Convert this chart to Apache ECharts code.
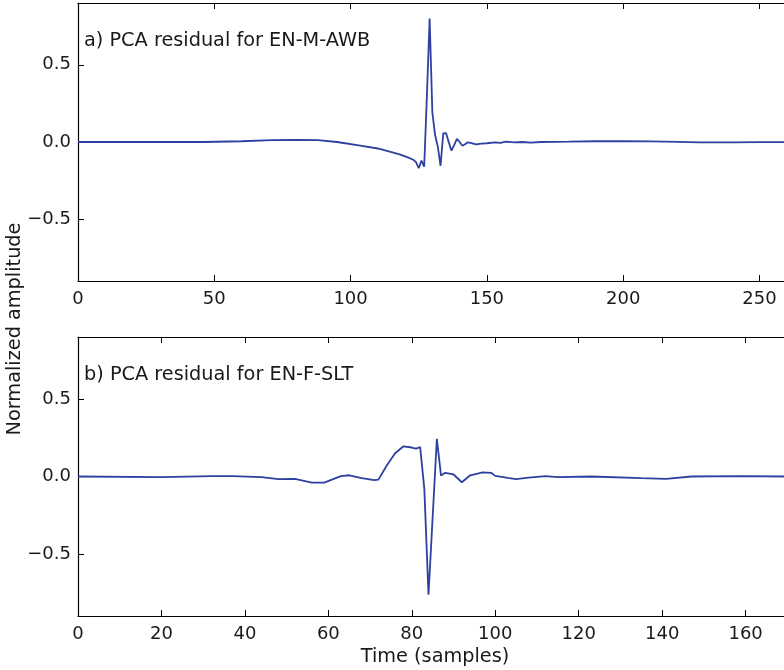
<!DOCTYPE html>
<html>
<head>
<meta charset="utf-8">
<script src="https://cdn.jsdelivr.net/npm/echarts@6/dist/echarts.min.js"></script>
<style>html,body{margin:0;padding:0;background:#fff;}#c{width:784px;height:670px;}</style>
</head>
<body>
<div id="c"></div>
<script>
// ---- data ----
const topSamples = [0, 20, 46, 60, 71, 80, 88, 95, 103, 110, 115, 118, 121, 123, 124, 125, 126, 127, 128, 129, 130, 131, 132, 133, 134, 135, 136, 137, 138, 139, 140, 141, 142, 143, 144, 146, 148, 150, 153, 155, 157, 160, 163, 166, 170, 180, 190, 200, 210, 220, 228, 240, 250, 259];
const topValues  = [0, 0, 0, 0.005, 0.012, 0.013, 0.012, 0.0, -0.022, -0.042, -0.065, -0.08, -0.1, -0.115, -0.13, -0.17, -0.12, -0.16, 0.3, 0.80, 0.19, 0.045, -0.03, -0.154, 0.056, 0.058, 0.0, -0.056, -0.02, 0.02, 0.0, -0.024, -0.015, -0.002, -0.006, -0.015, -0.01, -0.008, -0.003, -0.006, 0.002, -0.003, 0.0, -0.004, 0.0, 0.002, 0.005, 0.005, 0.004, 0.001, -0.002, -0.002, -0.001, -0.001];
const bottomSamples = [0, 20, 32, 37, 44, 48, 52, 56, 59, 63, 65, 68, 71, 72, 74, 76, 78, 80, 81, 82, 83, 84, 86, 87, 88, 90, 92, 94, 97, 99, 100, 103, 105, 108, 112, 115, 123, 135, 141, 147, 159, 170];
const bottomValues  = [0, -0.004, 0.002, 0.002, -0.004, -0.017, -0.015, -0.04, -0.04, 0.002, 0.008, -0.011, -0.024, -0.02, 0.071, 0.15, 0.195, 0.187, 0.18, 0.19, -0.08, -0.763, 0.243, 0.006, 0.024, 0.013, -0.037, 0.008, 0.027, 0.024, 0.004, -0.009, -0.017, -0.007, 0.002, -0.004, 0, -0.011, -0.015, 0, 0.002, 0];
const topXTicks = [0, 50, 100, 150, 200, 250];
const bottomXTicks = [0, 20, 40, 60, 80, 100, 120, 140, 160];
const yTicks = [-0.5, 0, 0.5];
const topTitle = 'a) PCA residual for EN-M-AWB';
const bottomTitle = 'b) PCA residual for EN-F-SLT';
const xName = 'Time (samples)';
const yName = 'Normalized amplitude';

// ---- chart ----
const FONT = 'DejaVu Sans';
const FS = 18;
const TFS = 19.3;
const LINE = '#2e40a0';
const TXT = '#1a1a1a';
const chart = echarts.init(document.getElementById('c'), null, {renderer: 'canvas'});

function xAxisPair(gridIndex, max, ticks) {
  const common = {
    type: 'value', gridIndex, min: 0, max,
    axisLine: {show: true, onZero: false, lineStyle: {color: '#000', width: 1.2}},
    splitLine: {show: false}
  };
  return [
    Object.assign({}, common, {
      position: 'bottom',
      axisTick: {show: true, inside: true, length: 6, customValues: ticks, lineStyle: {color: '#000'}},
      axisLabel: {show: true, customValues: ticks, margin: 9, fontFamily: FONT, fontSize: FS, color: TXT,
        formatter: v => String(v)}
    }),
    Object.assign({}, common, {
      position: 'top',
      axisTick: {show: true, inside: true, length: 6, customValues: ticks, lineStyle: {color: '#000'}},
      axisLabel: {show: false}
    })
  ];
}
function yAxis(gridIndex) {
  return {
    type: 'value', gridIndex, min: -0.9, max: 0.9,
    axisLine: {show: true, onZero: false, lineStyle: {color: '#000', width: 1.2}},
    splitLine: {show: false},
    axisTick: {show: true, inside: true, length: 6, customValues: yTicks, lineStyle: {color: '#000'}},
    axisLabel: {show: true, customValues: yTicks, margin: 7, fontFamily: FONT, fontSize: FS, color: TXT,
      formatter: v => v.toFixed(1).replace('-', '\u2212')}
  };
}

const topMax = 259, bottomMax = 169.2;
const option = {
  animation: false,
  backgroundColor: '#fff',
  grid: [
    {left: 78, top: 3, width: 708, height: 278},
    {left: 78, top: 337, width: 708, height: 279}
  ],
  xAxis: [].concat(xAxisPair(0, topMax, topXTicks), xAxisPair(1, bottomMax, bottomXTicks)),
  yAxis: [yAxis(0), yAxis(1)],
  series: [
    {type: 'line', xAxisIndex: 0, yAxisIndex: 0, showSymbol: false, clip: true,
      data: topSamples.map((x, i) => [x, topValues[i]]),
      lineStyle: {color: LINE, width: 1.8}, itemStyle: {color: LINE}},
    {type: 'line', xAxisIndex: 2, yAxisIndex: 1, showSymbol: false, clip: true,
      data: bottomSamples.map((x, i) => [x, bottomValues[i]]),
      lineStyle: {color: LINE, width: 1.8}, itemStyle: {color: LINE}}
  ],
  graphic: [
    {type: 'text', x: 84, y: 41, style: {text: topTitle, fontFamily: FONT, fontSize: TFS, fill: TXT, align: 'left', verticalAlign: 'middle'}},
    {type: 'text', x: 84, y: 375, style: {text: bottomTitle, fontFamily: FONT, fontSize: TFS, fill: TXT, align: 'left', verticalAlign: 'middle'}},
    {type: 'text', x: 435, y: 657, style: {text: xName, fontFamily: FONT, fontSize: TFS, fill: TXT, align: 'center', verticalAlign: 'middle'}},
    {type: 'text', x: 15, y: 329, rotation: Math.PI / 2, style: {text: yName, fontFamily: FONT, fontSize: TFS, fill: TXT, align: 'center', verticalAlign: 'middle'}}
  ]
};
chart.setOption(option);
</script>
</body>
</html>
